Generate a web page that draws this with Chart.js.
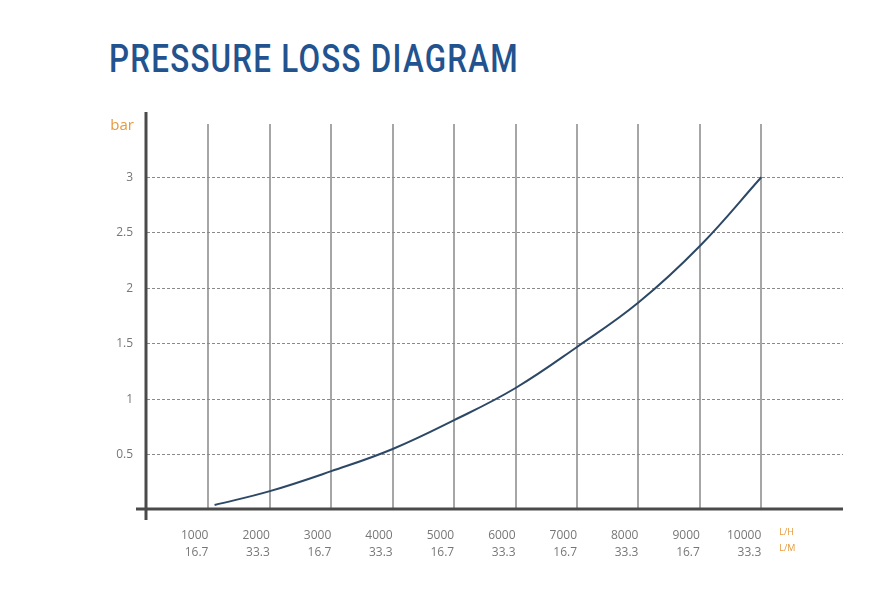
<!DOCTYPE html>
<html>
<head>
<meta charset="utf-8">
<script src="https://cdn.jsdelivr.net/npm/chart.js@4"></script>
<style>
  html, body { margin: 0; padding: 0; background: #ffffff; }
  #wrap { position: relative; width: 884px; height: 600px; }
  #title { position: absolute; left: 109px; top: 37px; font-family: Roboto, "DejaVu Sans", sans-serif; font-weight: 500; font-size: 38px; letter-spacing: 1.5px; color: #22538f; white-space: nowrap; transform-origin: 0 0; }
  canvas { position: absolute; left: 0; top: 0; }
</style>
</head>
<body>
<div id="wrap">
  <div id="title">PRESSURE LOSS DIAGRAM</div>
  <canvas id="c" width="884" height="600"></canvas>
</div>
<script>
// ---- data ----
const flowLH = [1100, 2000, 3000, 4000, 5000, 6000, 7000, 8000, 9000, 10000];
const pressureBar = [0.045, 0.17, 0.35, 0.55, 0.81, 1.10, 1.47, 1.87, 2.38, 3.0];
const xTickValues = [1000, 2000, 3000, 4000, 5000, 6000, 7000, 8000, 9000, 10000];
const xTickSubLabels = ['16.7', '33.3', '16.7', '33.3', '16.7', '33.3', '16.7', '33.3', '16.7', '33.3'];
const yTickValues = [0.5, 1, 1.5, 2, 2.5, 3];
const yUnit = 'bar';
const xUnits = ['L/H', 'L/M'];

// title width fit
const t = document.getElementById('title');
const w = t.getBoundingClientRect().width;
t.style.transform = 'scaleX(' + (410 / w) + ')';

const points = flowLH.map((x, i) => ({ x: x, y: pressureBar[i] }));

const axisPlugin = {
  id: 'axisLines',
  afterDraw(chart) {
    const ctx = chart.ctx;
    const a = chart.chartArea;
    const xs = chart.scales.x, ys = chart.scales.y;
    const x0 = xs.getPixelForValue(0) - 1;
    const y0 = ys.getPixelForValue(0) - 1;
    ctx.save();
    ctx.strokeStyle = '#4a4a4a';
    ctx.lineWidth = 3;
    ctx.beginPath();
    ctx.moveTo(x0 - 10, y0);
    ctx.lineTo(a.right, y0);
    ctx.moveTo(x0, a.top - 12);
    ctx.lineTo(x0, y0 + 11);
    ctx.stroke();
    ctx.fillStyle = '#e59a3a';
    ctx.font = '15px "Open Sans", sans-serif';
    ctx.textAlign = 'right';
    ctx.textBaseline = 'middle';
    ctx.fillText(yUnit, x0 - 12, a.top + 2);
    ctx.font = '9px "Open Sans", sans-serif';
    ctx.textAlign = 'left';
    const xl = xs.getPixelForValue(10000) + 18;
    ctx.fillText(xUnits[0], xl, y0 + 23);
    ctx.fillText(xUnits[1], xl, y0 + 39);
    ctx.restore();
  }
};

new Chart(document.getElementById('c'), {
  type: 'line',
  data: {
    datasets: [{
      data: points,
      borderColor: '#2c4866',
      borderWidth: 2,
      pointRadius: 0,
      fill: false,
      tension: 0.4
    }]
  },
  options: {
    responsive: false,
    animation: false,
    layout: { padding: { top: 124, right: 41, left: 0, bottom: 0 } },
    plugins: { legend: { display: false }, tooltip: { enabled: false } },
    scales: {
      x: {
        type: 'linear',
        min: 0,
        max: 11330,
        afterBuildTicks: (s) => { s.ticks = xTickValues.map(v => ({ value: v })); },
        afterFit: (s) => { s.height = 90; },
        border: { display: false },
        grid: { color: '#a6a6a6', lineWidth: 2, drawTicks: false },
        ticks: {
          autoSkip: false,
          maxRotation: 0,
          minRotation: 0,
          align: 'end',
          padding: 17,
          color: '#777777',
          font: { family: '"Open Sans", sans-serif', size: 12, lineHeight: 1.4 },
          callback: (v) => { const i = xTickValues.indexOf(v); return [String(v), xTickSubLabels[i]]; }
        }
      },
      y: {
        min: 0,
        max: 3.48,
        afterBuildTicks: (s) => { s.ticks = yTickValues.map(v => ({ value: v })); },
        afterFit: (s) => { s.width = 147; },
        border: { display: false, dash: [3, 2] },
        grid: { color: '#8a8a8a', lineWidth: 1, drawTicks: false },
        ticks: {
          padding: 14,
          color: '#777777',
          font: { family: '"Open Sans", sans-serif', size: 12 },
          callback: (v) => String(v)
        }
      }
    }
  },
  plugins: [axisPlugin]
});
</script>
</body>
</html>
